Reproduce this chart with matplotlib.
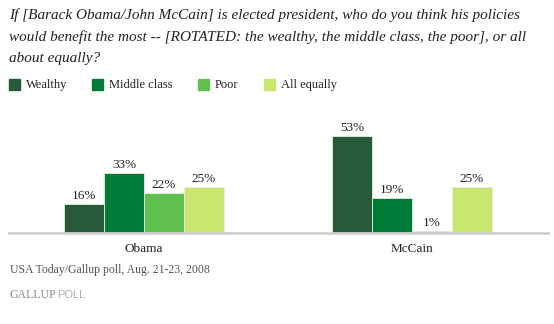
import numpy as np
from matplotlib import pyplot as plt

categories = ["Obama", "McCain"]
series = ["Wealthy", "Middle class", "Poor", "All equally"]
wealthy = [16, 53]
middle_class = [33, 19]
poor = [22, 1]
all_equally = [25, 25]
colors = ["#265A38", "#007A37", "#61C150", "#C8E670"]

title = ("If [Barack Obama/John McCain] is elected president, who do you think his policies\n"
         "would benefit the most -- [ROTATED: the wealthy, the middle class, the poor], or all\n"
         "about equally?")
source = "USA Today/Gallup poll, Aug. 21-23, 2008"

W, H = 554, 324
fig = plt.figure(figsize=(W / 100, H / 100), dpi=100)
serif = ["Liberation Serif", "DejaVu Serif"]


def fx(px):
    return px / W


def fy(py):
    return 1 - py / H


ax = fig.add_axes([fx(9), fy(233), fx(548) - fx(9), fy(105) - fy(233)])

values = [wealthy, middle_class, poor, all_equally]
x = np.arange(len(categories))
width = 0.149
offsets = (np.arange(len(series)) - 1.5) * width

for vals, off, col, name in zip(values, offsets, colors, series):
    bars = ax.bar(x + off, vals, width, color=col, edgecolor="#e8efe0", linewidth=0.6, label=name)
    for b, v in zip(bars, vals):
        ax.annotate(f"{v}%", (b.get_x() + b.get_width() / 2, v), xytext=(0, 1.5),
                    textcoords="offset points", ha="center", va="bottom",
                    fontsize=9.5, family=serif, color="#222222")

ax.set_xlim(-0.504, 1.507)
ax.set_ylim(0, 70)
ax.set_xticks(x)
ax.set_xticklabels(categories, family=serif, fontsize=9.5, color="#222222")
ax.tick_params(axis="x", length=0, pad=7)
ax.set_yticks([])
for s in ["top", "right", "left"]:
    ax.spines[s].set_visible(False)
ax.spines["bottom"].set_color("#d0d0d0")
ax.spines["bottom"].set_linewidth(2)

fig.text(fx(9), fy(8), title, ha="left", va="top", fontsize=11, style="italic",
         family=serif, color="#222222", linespacing=1.8)

leg_x = [9, 92, 198, 264]
for lx, col, name in zip(leg_x, colors, series):
    fig.patches.append(plt.Rectangle((fx(lx), fy(90)), fx(11), fy(79) - fy(90),
                                     transform=fig.transFigure, color=col))
    fig.text(fx(lx + 17), fy(85), name, ha="left", va="center", fontsize=9,
             family=serif, color="#222222")

fig.text(fx(10), fy(270), source, ha="left", va="center", fontsize=8.5,
         family=serif, color="#555555")
fig.text(fx(9), fy(295), "GALLUP", ha="left", va="center", fontsize=8.5,
         family=serif, color="#8a8a8a")
fig.text(fx(57), fy(295), "POLL", ha="left", va="center", fontsize=8,
         family=["Liberation Sans", "DejaVu Sans"], color="#b0b0b0")

fig.savefig("out.png", dpi=100)
